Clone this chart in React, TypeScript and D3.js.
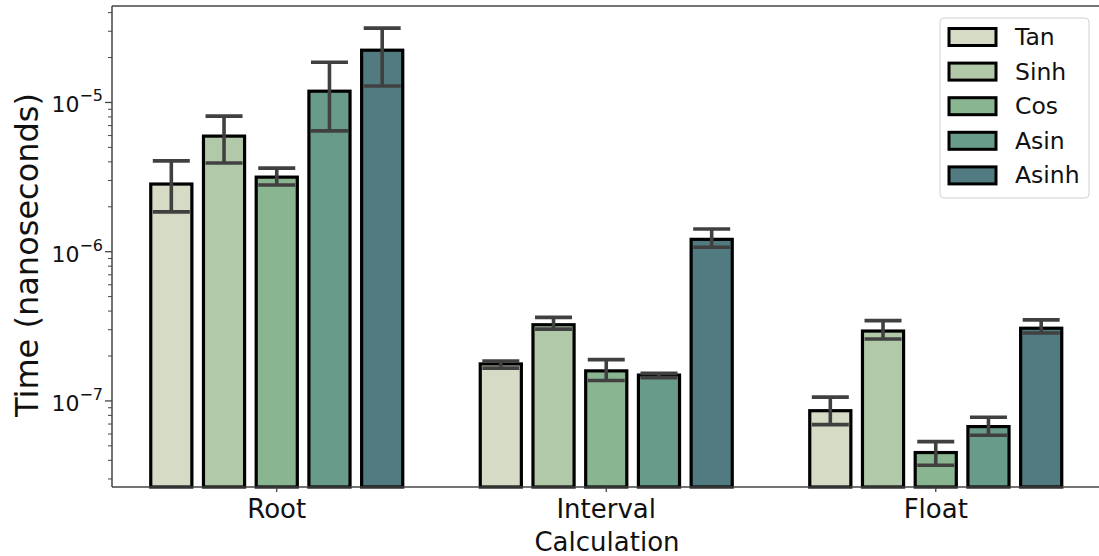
import React from "react";
import * as d3 from "d3";

// benchmark groups on the x axis and the functions in each group
const groups = ["Root", "Interval", "Float"];
const funcs = ["Tan", "Sinh", "Cos", "Asin", "Asinh"];
const colors = ["#d5dbc5", "#b1c9a8", "#8ab591", "#699b8a", "#527b81"];

// mean times, one array per function, in the order of groups
const tanMean = [2.84e-6, 1.77e-7, 8.6e-8];
const sinhMean = [5.95e-6, 3.24e-7, 2.94e-7];
const cosMean = [3.16e-6, 1.59e-7, 4.51e-8];
const asinMean = [1.19e-5, 1.49e-7, 6.73e-8];
const asinhMean = [2.24e-5, 1.21e-6, 3.07e-7];

// error bar ends
const tanLow = [1.85e-6, 1.66e-7, 6.94e-8];
const sinhLow = [3.93e-6, 3.03e-7, 2.6e-7];
const cosLow = [2.8e-6, 1.37e-7, 3.71e-8];
const asinLow = [6.45e-6, 1.43e-7, 5.89e-8];
const asinhLow = [1.29e-5, 1.07e-6, 2.85e-7];

const tanHigh = [4.06e-6, 1.85e-7, 1.06e-7];
const sinhHigh = [8.1e-6, 3.63e-7, 3.45e-7];
const cosHigh = [3.63e-6, 1.89e-7, 5.34e-8];
const asinHigh = [1.86e-5, 1.53e-7, 7.78e-8];
const asinhHigh = [3.15e-5, 1.42e-6, 3.49e-7];

const yExponents = [-7, -6, -5];

const means = [tanMean, sinhMean, cosMean, asinMean, asinhMean];
const lows = [tanLow, sinhLow, cosLow, asinLow, asinhLow];
const highs = [tanHigh, sinhHigh, cosHigh, asinHigh, asinhHigh];

const width = 1099;
const height = 556;
const left = 112;
const top = 6;
const bottom = 487;
const right = 1100.5;
const font = "'DejaVu Sans', sans-serif";

const App = () => {
  const x = d3.scaleBand().domain(groups).range([left, right]).padding(0);
  const inner = d3
    .scaleBand()
    .domain(funcs)
    .range([0, x.bandwidth() * 0.8]);
  const y = d3.scaleLog().domain([2.65e-8, 4.43e-5]).range([bottom, top]);

  const barW = inner.bandwidth() * 0.78;
  const capW = 37;

  const [d0, d1] = y.domain();
  const minor: number[] = [];
  for (let e = -8; e <= -5; e++) {
    for (let m = 2; m <= 9; m++) {
      const v = m * Math.pow(10, e);
      if (v >= d0 && v <= d1) minor.push(v);
    }
  }

  const barRows = funcs.flatMap((f, i) =>
    groups.map((g, j) => ({
      f,
      i,
      g,
      cx: x(g)! + x.bandwidth() * 0.1 + inner(f)! + inner.bandwidth() / 2,
      v: means[i][j],
      lo: lows[i][j],
      hi: highs[i][j],
    }))
  );

  return (
    <svg
      width={width}
      height={height}
      style={{ position: "absolute", left: 0, top: 0, background: "#fff" }}
      fontFamily={font}
    >
      {/* bars */}
      {barRows.map((d) => (
        <rect
          key={`b-${d.f}-${d.g}`}
          x={d.cx - barW / 2}
          y={y(d.v)}
          width={barW}
          height={bottom - y(d.v)}
          fill={colors[d.i]}
          stroke="#000"
          strokeWidth={3.2}
        />
      ))}
      {/* error bars */}
      {barRows.map((d) => (
        <g key={`e-${d.f}-${d.g}`} stroke="#404040" strokeWidth={3.6}>
          <line x1={d.cx} x2={d.cx} y1={y(d.hi)} y2={y(d.lo)} />
          <line x1={d.cx - capW / 2} x2={d.cx + capW / 2} y1={y(d.hi)} y2={y(d.hi)} />
          <line x1={d.cx - capW / 2} x2={d.cx + capW / 2} y1={y(d.lo)} y2={y(d.lo)} />
        </g>
      ))}

      {/* spines */}
      <g stroke="#444" strokeWidth={1.5} fill="none">
        <line x1={left} x2={left} y1={top} y2={bottom} />
        <line x1={left} x2={right} y1={top} y2={top} />
        <line x1={left} x2={right} y1={bottom} y2={bottom} />
        <line x1={right} x2={right} y1={top} y2={bottom} />
      </g>

      {/* y ticks */}
      {minor.map((v) => (
        <line key={`m-${v}`} x1={left - 4} x2={left} y1={y(v)} y2={y(v)} stroke="#444" strokeWidth={1} />
      ))}
      {yExponents.map((e) => {
        const ty = y(Math.pow(10, e));
        return (
          <g key={`t-${e}`}>
            <line x1={left - 7} x2={left} y1={ty} y2={ty} stroke="#444" strokeWidth={1.3} />
            <text x={103} y={ty + 10} textAnchor="end" fontSize={22} fill="#111">
              10
              <tspan dy={-11} fontSize={16}>
                {`\u2212${-e}`}
              </tspan>
            </text>
          </g>
        );
      })}

      {/* x ticks */}
      {groups.map((g) => {
        const cx = x(g)! + x.bandwidth() / 2;
        return (
          <g key={`x-${g}`}>
            <line x1={cx} x2={cx} y1={bottom} y2={bottom + 5} stroke="#444" strokeWidth={1.3} />
            <text x={cx} y={518} textAnchor="middle" fontSize={26} fill="#111">
              {g}
            </text>
          </g>
        );
      })}

      {/* axis titles */}
      <text x={607} y={551} textAnchor="middle" fontSize={26} fill="#111">
        Calculation
      </text>
      <text
        transform={`translate(38,255) rotate(-90)`}
        textAnchor="middle"
        fontSize={32}
        fill="#111"
      >
        Time (nanoseconds)
      </text>

      {/* legend */}
      <rect x={940} y={18} width={149} height={180} rx={4} fill="#fff" fillOpacity={0.8} stroke="#d0d0d0" strokeWidth={1} />
      {funcs.map((f, i) => {
        const ry = 37 + i * 34.6;
        return (
          <g key={`l-${f}`}>
            <rect x={949} y={ry - 8.5} width={47} height={17} fill={colors[i]} stroke="#000" strokeWidth={3} />
            <text x={1015} y={ry} dominantBaseline="central" fontSize={23.5} fill="#111">
              {f}
            </text>
          </g>
        );
      })}
    </svg>
  );
};

export default App;
